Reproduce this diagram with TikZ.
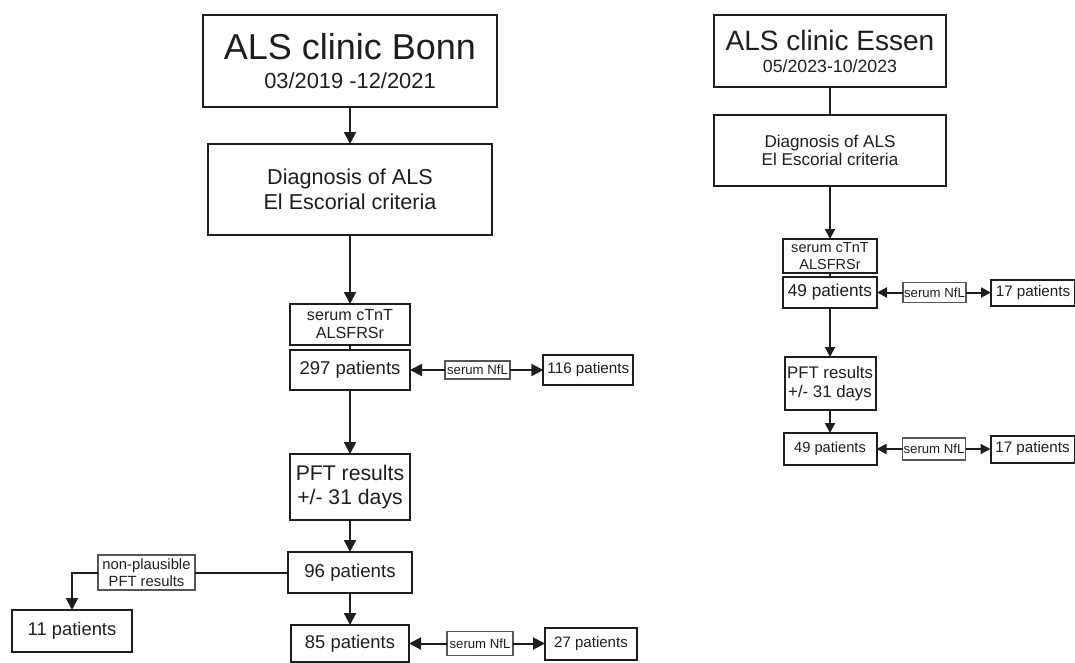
\documentclass[tikz,border=0pt]{standalone}
\usepackage{fontspec}
\setmainfont{Liberation Sans}
\usepackage{tikz}
\usetikzlibrary{arrows.meta,positioning}
\definecolor{ink}{RGB}{30, 30, 30}
\definecolor{tagline}{RGB}{85, 85, 85}
\newcommand{\fsz}[2]{\fontsize{#1}{#2}\selectfont}
\tikzstyle{box} = [rectangle, draw=ink, line width=1.5pt, text=ink, align=center, inner sep=0pt, outer sep=0pt]
\tikzstyle{tag} = [rectangle, draw=tagline, line width=0.8pt, text=ink, align=center, inner sep=0pt, outer sep=0pt]
\tikzstyle{tedge} = [draw=ink, line width=1.5pt, -{Triangle[length=9pt,width=9pt]}]
\tikzstyle{tedges} = [draw=ink, line width=1.5pt, -{Triangle[length=7.5pt,width=7.5pt]}]
\tikzstyle{tline} = [draw=ink, line width=1.5pt]

\begin{document}
\begin{tikzpicture}

\useasboundingbox (0,0) rectangle (806.25pt,-496.5pt);

% Bonn =============================

\node[box, minimum width=220.5pt, minimum height=69pt, font=\fsz{27pt}{21.75pt}] (bonn) at (262.5pt,-45.75pt) {ALS clinic Bonn\\{\fsz{16.4pt}{21.75pt}03/2019 -12/2021}};
\node[box, below=27.75pt of bonn, minimum width=213pt, minimum height=68.25pt, font=\fsz{16.2pt}{18.75pt}] (diag) {Diagnosis of ALS\\El Escorial criteria};
\node[box, below=51.75pt of diag, minimum width=90pt, minimum height=30.75pt, font=\fsz{12.1pt}{13.5pt}] (ctnt) {serum cTnT\\ALSFRSr};
\node[box, below=3.75pt of ctnt, minimum width=90pt, minimum height=30pt, font=\fsz{13.9pt}{16pt}] (p297) {297 patients};
\node[tag, right=26.25pt of p297, minimum width=48.75pt, minimum height=13.5pt, font=\fsz{9.9pt}{11pt}] (nfl1) {serum NfL};
\node[box, right=25pt of nfl1, minimum width=67.5pt, minimum height=22.5pt, font=\fsz{11.4pt}{13pt}] (p116) {116 patients};

% PFT
\node[box, below=48pt of p297, minimum width=90pt, minimum height=49.5pt, font=\fsz{15.9pt}{18pt}] (pft) {PFT results\\+/- 31 days};
\node[box, below=24pt of pft, minimum width=93pt, minimum height=30.75pt, font=\fsz{14pt}{16pt}] (p96) {96 patients};
\node[tag, left=69.75pt of p96, minimum width=72.75pt, minimum height=26.25pt, font=\fsz{11.1pt}{12.75pt}] (nonpl) {non-plausible\\PFT results};
\node[box, below=15pt of nonpl.south west, xshift=-19.5pt, minimum width=90pt, minimum height=31.5pt, font=\fsz{13.8pt}{16pt}] (p11) {11 patients};
\node[box, below=24pt of p96, minimum width=88.5pt, minimum height=27.75pt, font=\fsz{13.8pt}{16pt}] (p85) {85 patients};
\node[tag, right=28.5pt of p85, minimum width=49.5pt, minimum height=18pt, font=\fsz{9.9pt}{11pt}] (nfl3) {serum NfL};
\node[box, right=24pt of nfl3, minimum width=69pt, minimum height=24pt, font=\fsz{11.3pt}{13pt}] (p27) {27 patients};

% Essen =============================

\node[box, minimum width=174pt, minimum height=54pt, font=\fsz{21pt}{16.5pt}] (essen) at (622.5pt,-38.25pt) {ALS clinic Essen\\{\fsz{13.3pt}{16.5pt}05/2023-10/2023}};
\node[box, below=21pt of essen, minimum width=174pt, minimum height=53.25pt, font=\fsz{12.8pt}{13.75pt}] (diag2) {Diagnosis of ALS\\El Escorial criteria};
\node[box, below=39.75pt of diag2, minimum width=70.5pt, minimum height=25.5pt, font=\fsz{10.9pt}{13.25pt}] (ctnt2) {serum cTnT\\ALSFRSr};
\node[box, below=3pt of ctnt2, minimum width=70.5pt, minimum height=23.25pt, font=\fsz{12.9pt}{15pt}] (p49a) {49 patients};
\node[tag, right=19.5pt of p49a, minimum width=47.25pt, minimum height=15pt, font=\fsz{9.9pt}{11pt}] (nfl2) {serum NfL};
\node[box, right=18.75pt of nfl2, minimum width=63pt, minimum height=19.5pt, font=\fsz{11.4pt}{13pt}] (p17a) {17 patients};

% PFT
\node[box, below=36.75pt of p49a, minimum width=68.25pt, minimum height=39.75pt, font=\fsz{12.6pt}{14.5pt}] (pft2) {PFT results\\+/- 31 days};
\node[box, below=17.25pt of pft2, minimum width=69.75pt, minimum height=24pt, font=\fsz{11pt}{13pt}] (p49b) {49 patients};
\node[tag, right=19.5pt of p49b, minimum width=47.25pt, minimum height=16.5pt, font=\fsz{9.9pt}{11pt}] (nfl4) {serum NfL};
\node[box, right=18.75pt of nfl4, minimum width=63pt, minimum height=20.25pt, font=\fsz{11.4pt}{13pt}] (p17b) {17 patients};

%edges Bonn
\path[tedge] (bonn) -- (diag);
\path[tedge] (diag) -- (ctnt);
\path[tline] (ctnt) -- (p297);
\path[tedge] (nfl1) -- (p297);
\path[tedge] (nfl1) -- (p116);
\path[tedge] (p297) -- (pft);
\path[tedge] (pft) -- (p96);
\path[tline] (p96) -- (nonpl);
\path[tedge] (nonpl) -| (p11);
\path[tedge] (p96) -- (p85);
\path[tedge] (nfl3) -- (p85);
\path[tedge] (nfl3) -- (p27);

%edges Essen
\path[tline] (essen) -- (diag2);
\path[tedges] (diag2) -- (ctnt2);
\path[tline] (ctnt2) -- (p49a);
\path[tedges] (nfl2) -- (p49a);
\path[tedges] (nfl2) -- (p17a);
\path[tedges] (p49a) -- (pft2);
\path[tedges] (pft2) -- (p49b);
\path[tedges] (nfl4) -- (p49b);
\path[tedges] (nfl4) -- (p17b);

\end{tikzpicture}
\end{document}
